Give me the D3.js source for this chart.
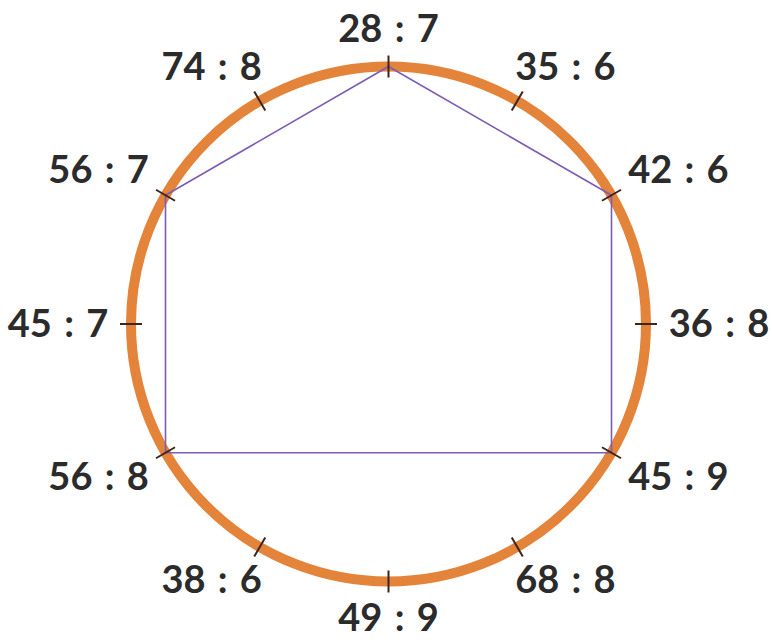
<!DOCTYPE html>
<html>
<head>
<meta charset="utf-8">
<script src="https://cdn.jsdelivr.net/npm/d3@7"></script>
<style>
  body { margin: 0; background: #fff; }
  svg { display: block; }
  .label { font-family: Lato, "Open Sans", sans-serif; font-weight: 700; font-size: 38px; word-spacing: 3px; fill: #2b2b2b; }
</style>
</head>
<body>
<svg width="772" height="640"></svg>
<script>
"use strict"

// ratios round the ring, clockwise from the top
const ratios = ["28 : 7", "35 : 6", "42 : 6", "36 : 8", "45 : 9", "68 : 8",
                "49 : 9", "38 : 6", "56 : 8", "45 : 7", "56 : 7", "74 : 8"]
// the ratios joined by the drawn path, in drawing order
const joined = ["28 : 7", "42 : 6", "45 : 9", "56 : 8", "56 : 7"]

let svg = d3.select("svg"),
    cx = 388.5,
    cy = 324,
    r = 257.5

let angle = d3.scaleLinear()
    .domain([0, ratios.length])
    .range([0, 2 * Math.PI])

// point on the ring (or at radius rr) for a ratio
function at(label, rr) {
    let a = angle(ratios.indexOf(label))
    return [cx + rr * Math.sin(a), cy - rr * Math.cos(a)]
}

let g = svg.append("g")

g.append("circle")
    .attr("cx", cx)
    .attr("cy", cy)
    .attr("r", r)
    .attr("fill", "none")
    .attr("stroke", "#e3843a")
    .attr("stroke-width", 10)

g.append("path")
    .datum(joined)
    .attr("d", d => d3.line()(d.map(k => at(k, r))) + "Z")
    .attr("fill", "none")
    .attr("stroke", "#7d5cb4")
    .attr("stroke-width", 1.6)

g.selectAll(".tick")
    .data(ratios)
    .enter().append("line")
    .attr("class", "tick")
    .attr("x1", d => at(d, r - 11)[0])
    .attr("y1", d => at(d, r - 11)[1])
    .attr("x2", d => at(d, r + 11)[0])
    .attr("y2", d => at(d, r + 11)[1])
    .attr("stroke", "#3f2418")
    .attr("stroke-width", 2)

// labels pushed out from the ring, further at the sides where they are wide
function soft(v) {
    return Math.sign(v) * Math.pow(Math.abs(v), 0.6)
}

g.selectAll(".label")
    .data(ratios)
    .enter().append("text")
    .attr("class", "label")
    .attr("text-anchor", "middle")
    .attr("dy", "0.33em")
    .attr("x", d => at(d, r)[0] + 73 * soft(Math.sin(angle(ratios.indexOf(d)))))
    .attr("y", d => at(d, r)[1] - 37 * soft(Math.cos(angle(ratios.indexOf(d)))))
    .text(d => d)
</script>
</body>
</html>
